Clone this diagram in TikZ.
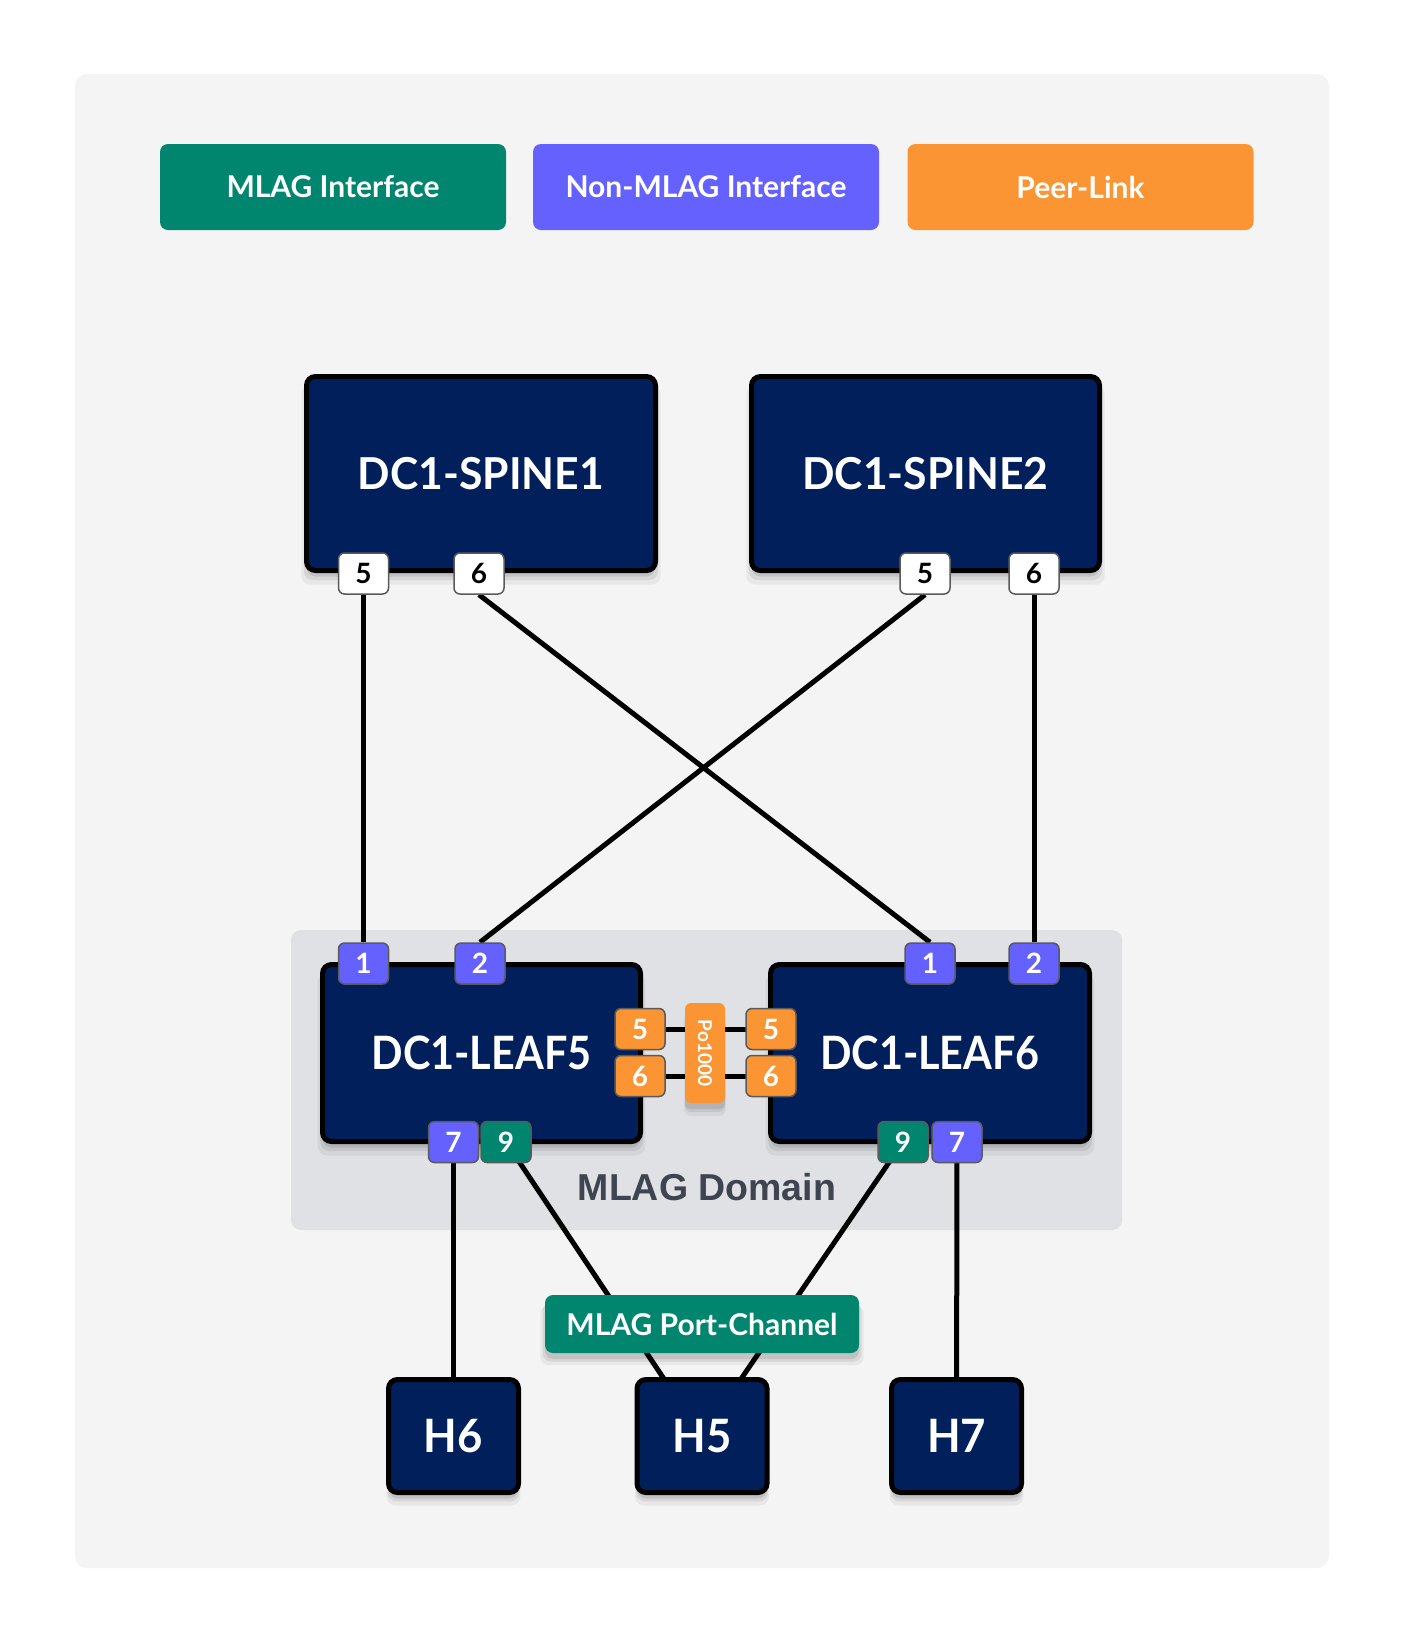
\documentclass[tikz,border=0pt]{standalone}
\usepackage{fontspec}
\setmainfont{Lato}
\newfontfamily\arialfam{Liberation Sans}
\usetikzlibrary{shadows}
\definecolor{navy}{HTML}{001F5B}
\definecolor{tealc}{HTML}{00866F}
\definecolor{purp}{HTML}{6561FF}
\definecolor{orng}{HTML}{FB9533}
\definecolor{panelc}{HTML}{F4F4F4}
\definecolor{domfill}{HTML}{DFE1E5}
\definecolor{domtext}{HTML}{3F4550}
\definecolor{portline}{HTML}{5A5A5A}
\pgfdeclarelayer{bg}
\pgfdeclarelayer{edges}
\pgfsetlayers{bg,edges,main}
\tikzset{
  softshadow/.style={
    general shadow={fill=black, opacity=0.05, shadow yshift=-11pt, shadow scale=1.03},
    general shadow={fill=black, opacity=0.07, shadow yshift=-8pt, shadow scale=1.015},
    general shadow={fill=black, opacity=0.09, shadow yshift=-6pt}},
  dev/.style={softshadow, draw=black, line width=5pt, fill=navy, rounded corners=9pt,
    text=white, inner sep=0pt, font=\bfseries\fontsize{46}{46}\selectfont},
  portbox/.style={draw=portline, line width=1.5pt, rounded corners=6pt, inner sep=0pt,
    minimum width=50pt, minimum height=41pt, font=\bfseries\fontsize{28}{28}\selectfont},
  wport/.style={portbox, fill=white, text=black},
  pport/.style={portbox, fill=purp, text=white},
  tport/.style={portbox, fill=tealc, text=white},
  oport/.style={portbox, fill=orng, text=white},
  legend/.style={rounded corners=8pt, inner sep=0pt, minimum width=346pt, minimum height=86pt,
    text=white, font=\bfseries\fontsize{30}{30}\selectfont},
  link/.style={draw=black, line width=5pt}
}
\newcommand{\narrowtxt}[2]{\scalebox{#1}[1]{#2}}
\begin{document}
\begin{tikzpicture}[x=1pt,y=-1pt]
\useasboundingbox (0,0) rectangle (1404,1644);
\begin{pgfonlayer}{bg}
  \fill[white] (0,0) rectangle (1404,1644);
  \fill[fill=panelc, rounded corners=12pt] (75,74) rectangle (1329,1568);
  \fill[fill=domfill, rounded corners=10pt] (291,930) rectangle (1122,1230);
\end{pgfonlayer}

% legend
\node[legend, fill=tealc] (lgmlag) at (333,187) {MLAG Interface};
\node[legend, fill=purp] (lgnon) at (706,187) {Non-MLAG Interface};
\node[legend, fill=orng] (lgpeer) at (1080.5,187) {Peer-Link};

% spines
\node[dev, minimum width=349pt, minimum height=194pt, font=\bfseries\fontsize{44}{44}\selectfont] (spine1) at (481,473.5) {\narrowtxt{0.97}{DC1-SPINE1}};
\node[dev, minimum width=348pt, minimum height=194pt, font=\bfseries\fontsize{44}{44}\selectfont] (spine2) at (925.5,473.5) {\narrowtxt{0.97}{DC1-SPINE2}};
\node[wport] (s1p5) at (363.5,573.5) {5};
\node[wport] (s1p6) at (479,573.5) {6};
\node[wport] (s2p5) at (925,573.5) {5};
\node[wport] (s2p6) at (1034,573.5) {6};

% leaves
\node[dev, minimum width=318pt, minimum height=177pt] (leaf5) at (481.5,1053) {\narrowtxt{0.9}{DC1-LEAF5}};
\node[dev, minimum width=319pt, minimum height=177pt] (leaf6) at (930,1053) {\narrowtxt{0.9}{DC1-LEAF6}};
\node[pport] (l5p1) at (363.5,963.5) {1};
\node[pport] (l5p2) at (480,963.5) {2};
\node[pport] (l6p1) at (930,963.5) {1};
\node[pport] (l6p2) at (1034,963.5) {2};
\node[oport] (l5p5) at (640,1029) {5};
\node[oport] (l5p6) at (640,1076) {6};
\node[oport] (l6p5) at (771,1029) {5};
\node[oport] (l6p6) at (771,1076) {6};
\node[pport] (l5p7) at (453.5,1142) {7};
\node[tport] (l5p9) at (506,1142) {9};
\node[tport] (l6p9) at (903,1142) {9};
\node[pport] (l6p7) at (957,1142) {7};
\node[softshadow, fill=orng, rounded corners=6pt, inner sep=0pt, minimum width=40pt, minimum height=100pt] (po) at (705,1053)
  {\rotatebox{-90}{\color{white}\bfseries\fontsize{19}{19}\selectfont Po1000}};

\node[text=domtext, font=\arialfam\bfseries\fontsize{37.5}{37.5}\selectfont] (domlabel) at (707,1187) {MLAG Domain};

% hosts
\node[dev, minimum width=130pt, minimum height=113pt] (h6) at (453.5,1436) {\narrowtxt{0.95}{H6}};
\node[dev, minimum width=130pt, minimum height=113pt] (h5) at (702,1436) {\narrowtxt{0.95}{H5}};
\node[dev, minimum width=130pt, minimum height=113pt] (h7) at (956.5,1436) {\narrowtxt{0.95}{H7}};

\node[softshadow, fill=tealc, rounded corners=8pt, inner sep=0pt, minimum width=314pt, minimum height=58pt,
  text=white, font=\bfseries\fontsize{30}{30}\selectfont] (pc) at (702,1324) {MLAG Port-Channel};

\begin{pgfonlayer}{edges}
  \draw[link] (s1p5.south) -- (l5p1.north);
  \draw[link] (s1p6.south) -- (l6p1.north);
  \draw[link] (s2p5.south) -- (l5p2.north);
  \draw[link] (s2p6.south) -- (l6p2.north);
  \draw[link] (l5p5.center) -- (l6p5.center);
  \draw[link] (l5p6.center) -- (l6p6.center);
  \draw[link] (l5p7.center) -- (h6.center);
  \draw[link] (l5p9.center) -- (h5.center);
  \draw[link] (l6p9.center) -- (h5.center);
  \draw[link] (l6p7.center) -- (h7.center);
\end{pgfonlayer}
\end{tikzpicture}
\end{document}
